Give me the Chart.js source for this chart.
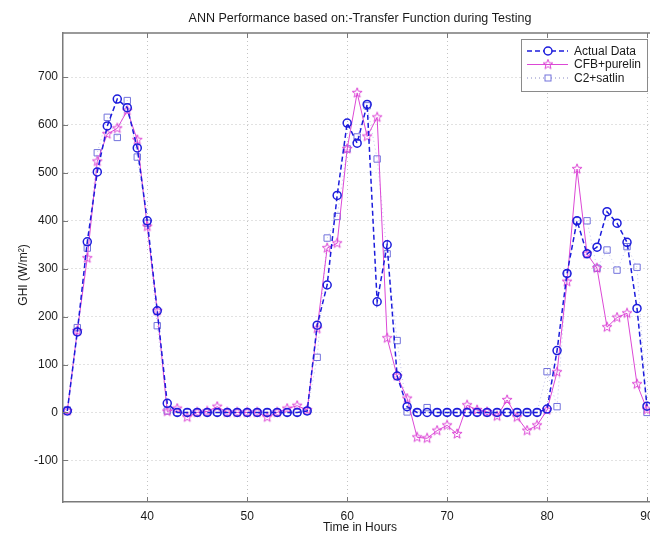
<!DOCTYPE html>
<html>
<head>
<meta charset="utf-8">
<script src="https://cdn.jsdelivr.net/npm/chart.js@4.4.0/dist/chart.umd.min.js"></script>
<style>
  html, body { margin: 0; padding: 0; background: #fff; overflow: hidden; }
  #wrap { width: 650px; height: 537px; overflow: hidden; }
  canvas { display: block; }
</style>
</head>
<body>
<div id="wrap"><canvas id="ghi-chart" width="670" height="537"></canvas></div>
<script>
// Hours on the x axis
const hours = [32, 33, 34, 35, 36, 37, 38, 39, 40, 41, 42, 43, 44, 45, 46, 47, 48, 49, 50, 51,
  52, 53, 54, 55, 56, 57, 58, 59, 60, 61, 62, 63, 64, 65, 66, 67, 68, 69, 70, 71,
  72, 73, 74, 75, 76, 77, 78, 79, 80, 81, 82, 83, 84, 85, 86, 87, 88, 89, 90];

// GHI values (W/m2)
const actualData = [3, 168, 356, 502, 598, 654, 636, 552, 400, 212, 19, 0, 0, 0, 0, 0, 0, 0, 0, 0,
  0, 0, 0, 0, 3, 182, 266, 453, 604, 562, 643, 231, 350, 76, 12, 0, 0, 0, 0, 0,
  0, 0, 0, 0, 0, 0, 0, 0, 7, 129, 290, 400, 331, 345, 419, 395, 355, 217, 13];
const cfbPurelin = [3, 170, 322, 524, 581, 593, 630, 569, 388, 212, 2, 8, -10, 0, 2, 12, 0, 0, 0, 0,
  -10, 0, 8, 14, 5, 175, 343, 353, 550, 667, 576, 616, 155, 76, 29, -52, -54, -38, -27, -45,
  15, 5, 1, -8, 26, -10, -38, -27, 5, 84, 273, 508, 331, 301, 178, 198, 207, 59, 6];
const c2Satlin = [5, 177, 343, 542, 616, 574, 651, 533, 395, 181, 3, 0, 0, 0, 0, 0, 0, 0, 0, 0,
  0, 0, 0, 0, 3, 115, 364, 409, 550, 575, 640, 529, 331, 150, 1, 0, 10, 0, 0, 0,
  0, 0, 0, 0, 0, 0, 0, 0, 85, 12, 290, 400, 400, 301, 339, 297, 346, 303, 0];

const xTicks = [40, 50, 60, 70, 80, 90];
const yTicks = [-100, 0, 100, 200, 300, 400, 500, 600, 700];
const seriesNames = ['Actual Data', 'CFB+purelin', 'C2+satlin'];
const chartTitle = 'ANN Performance based on:-Transfer Function during Testing';
const xTitle = 'Time in Hours';
const yTitle = 'GHI (W/m²)';

const FONT = '"Liberation Sans", Arial, Helvetica, sans-serif';
const BLUE = '#1c1cdc';
const PINK = '#dc48d6';
const SLATE = '#7272dc';

// pentagram marker like matlab's 'p'
function makeStar(color, size) {
  const c = document.createElement('canvas');
  c.width = c.height = size;
  const g = c.getContext('2d');
  const cx = size / 2, cy = size / 2, R = size / 2 - 0.8, r = R * 0.42;
  g.beginPath();
  for (let k = 0; k < 10; k++) {
    const a = -Math.PI / 2 + k * Math.PI / 5;
    const rad = k % 2 ? r : R;
    g.lineTo(cx + rad * Math.cos(a), cy + rad * Math.sin(a));
  }
  g.closePath();
  g.strokeStyle = color;
  g.lineWidth = 1;
  g.stroke();
  return c;
}
const starImg = makeStar(PINK, 12);

const toPoints = (vals) => hours.map((h, i) => ({ x: h, y: vals[i] }));

// frame, inward ticks, legend and titles drawn matlab style
const matlabFrame = {
  id: 'matlabFrame',
  afterDraw(chart) {
    const { ctx, chartArea: a, scales } = chart;
    ctx.save();
    ctx.strokeStyle = '#7a7a7a';
    ctx.lineWidth = 1.5;
    ctx.beginPath();
    ctx.moveTo(a.left, a.top); ctx.lineTo(a.right, a.top); ctx.lineTo(a.right, a.bottom);
    ctx.stroke();

    ctx.lineWidth = 1;
    ctx.beginPath();
    xTicks.forEach(v => {
      const px = Math.round(scales.x.getPixelForValue(v)) + 0.5;
      ctx.moveTo(px, a.bottom); ctx.lineTo(px, a.bottom - 5);
      ctx.moveTo(px, a.top); ctx.lineTo(px, a.top + 5);
    });
    yTicks.forEach(v => {
      const py = Math.round(scales.y.getPixelForValue(v)) + 0.5;
      ctx.moveTo(a.left, py); ctx.lineTo(a.left + 5, py);
      ctx.moveTo(a.right, py); ctx.lineTo(a.right - 5, py);
    });
    ctx.stroke();

    // legend box
    const lx = 521.5, ly = 39.5, lw = 126, lh = 52;
    ctx.fillStyle = '#fff';
    ctx.fillRect(lx, ly, lw, lh);
    ctx.strokeStyle = '#8a8a8a';
    ctx.strokeRect(lx, ly, lw, lh);
    const rows = [51, 64.5, 78];
    ctx.font = '12px ' + FONT;
    ctx.textBaseline = 'middle';
    ctx.textAlign = 'left';
    rows.forEach((ry, i) => {
      const ds = chart.data.datasets[i];
      ctx.save();
      ctx.strokeStyle = ds.borderColor;
      ctx.lineWidth = ds.borderWidth;
      ctx.setLineDash(ds.borderDash || []);
      ctx.beginPath();
      ctx.moveTo(527, ry); ctx.lineTo(568, ry);
      if (i !== 2) ctx.stroke();
      ctx.restore();
      if (i === 2) {
        ctx.save();
        ctx.strokeStyle = '#b0b0d8';
        ctx.setLineDash([1, 3]);
        ctx.beginPath(); ctx.moveTo(527, ry); ctx.lineTo(568, ry); ctx.stroke();
        ctx.restore();
      }
      ctx.fillStyle = '#fff';
      if (i === 0) {
        ctx.beginPath(); ctx.arc(548, ry, 4, 0, Math.PI * 2); ctx.fill();
        ctx.strokeStyle = BLUE; ctx.lineWidth = 1.5; ctx.stroke();
      } else if (i === 1) {
        ctx.drawImage(starImg, 542, ry - 6);
      } else {
        ctx.fillRect(545, ry - 3, 6, 6);
        ctx.strokeStyle = SLATE; ctx.lineWidth = 1;
        ctx.strokeRect(545, ry - 3, 6, 6);
      }
      ctx.fillStyle = '#1a1a1a';
      ctx.fillText(seriesNames[i], 574, ry + 0.5);
    });

    // titles
    ctx.fillStyle = '#1a1a1a';
    ctx.textAlign = 'center';
    ctx.font = '12.5px ' + FONT;
    ctx.fillText(chartTitle, (a.left + a.right) / 2, 19);
    ctx.font = '12px ' + FONT;
    ctx.fillText(xTitle, (a.left + a.right) / 2, 528);
    ctx.translate(24, 275);
    ctx.rotate(-Math.PI / 2);
    ctx.fillText(yTitle, 0, 0);
    ctx.restore();
  }
};

const canvas = document.getElementById('ghi-chart');
const chart = new Chart(canvas, {
  type: 'line',
  data: {
    datasets: [{
      label: seriesNames[0],
      data: toPoints(actualData),
      borderColor: BLUE,
      borderWidth: 1.5,
      borderDash: [5, 3],
      pointStyle: 'circle',
      pointRadius: 4,
      pointBorderWidth: 1.5,
      pointBorderColor: BLUE,
      pointBackgroundColor: 'rgba(255,255,255,0)',
      fill: false,
      tension: 0
    }, {
      label: seriesNames[1],
      data: toPoints(cfbPurelin),
      borderColor: PINK,
      borderWidth: 1,
      pointStyle: starImg,
      pointRadius: 6,
      fill: false,
      tension: 0
    }, {
      label: seriesNames[2],
      data: toPoints(c2Satlin),
      borderColor: 'rgba(150,150,220,0.55)',
      borderWidth: 1,
      borderDash: [1, 3],
      pointStyle: 'rect',
      pointRadius: 4.5,
      pointBorderWidth: 1,
      pointBorderColor: SLATE,
      pointBackgroundColor: 'rgba(255,255,255,0)',
      fill: false,
      tension: 0
    }]
  },
  options: {
    responsive: false,
    animation: false,
    events: [],
    layout: { padding: { top: 33, right: 13, left: 0, bottom: 0 } },
    plugins: { legend: { display: false }, title: { display: false }, tooltip: { enabled: false } },
    scales: {
      x: {
        type: 'linear',
        min: 31.57,
        max: 91,
        afterBuildTicks: (s) => { s.ticks = xTicks.map(v => ({ value: v })); },
        afterFit: (s) => { s.height = 35; },
        grid: { color: '#c4c4c4', drawTicks: false },
        border: { display: true, color: '#7a7a7a', width: 1.5, dash: [1, 3] },
        ticks: { padding: 7, color: '#1a1a1a', maxRotation: 0, font: { family: FONT, size: 12 } }
      },
      y: {
        type: 'linear',
        min: -187,
        max: 792,
        afterBuildTicks: (s) => { s.ticks = yTicks.map(v => ({ value: v })); },
        afterFit: (s) => { s.width = 63; },
        grid: { color: '#c4c4c4', drawTicks: false },
        border: { display: true, color: '#7a7a7a', width: 1.5, dash: [1, 3] },
        ticks: { padding: 5, color: '#1a1a1a', font: { family: FONT, size: 12 } }
      }
    }
  },
  plugins: [matlabFrame]
});
</script>
</body>
</html>
